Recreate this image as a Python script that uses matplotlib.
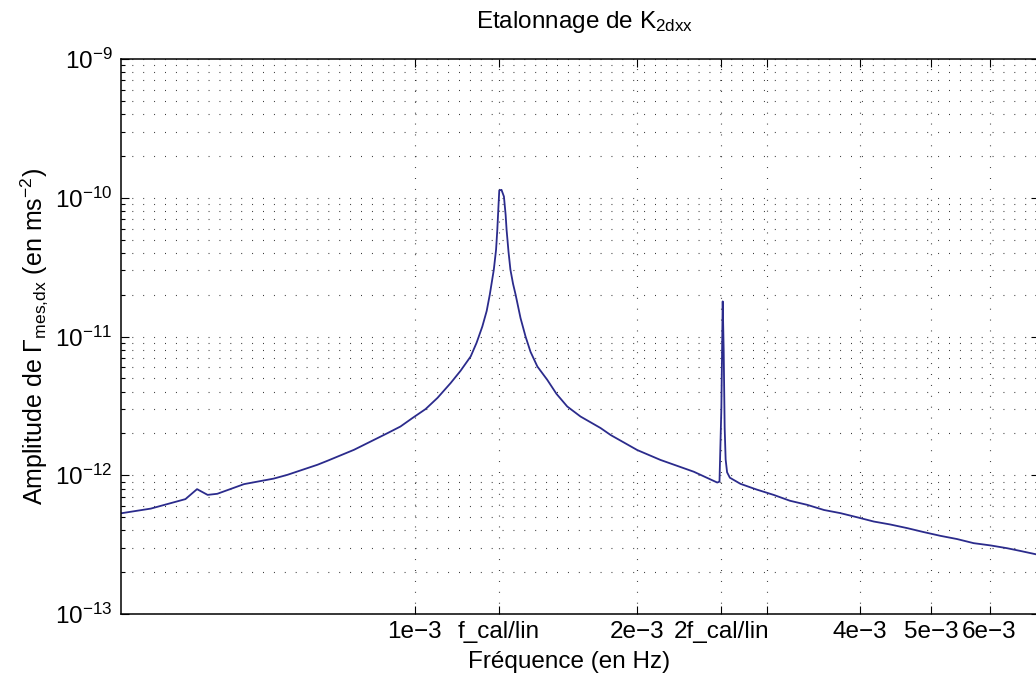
import matplotlib
matplotlib.use('Agg')
import matplotlib.pyplot as plt
from matplotlib.ticker import LogLocator, NullLocator, NullFormatter, FixedLocator, FixedFormatter

plt.rcParams['font.family'] = ['Liberation Sans', 'DejaVu Sans']
plt.rcParams['mathtext.fontset'] = 'custom'
plt.rcParams['mathtext.rm'] = 'Liberation Sans'
plt.rcParams['mathtext.it'] = 'Liberation Sans:italic'
plt.rcParams['mathtext.bf'] = 'Liberation Sans:bold'

# spectrum (Hz, m/s^2)
freq = [4.01e-4, 4.39e-4, 4.89e-4, 5.07e-4, 5.24e-4, 5.40e-4, 5.87e-4, 6.44e-4,
        6.72e-4, 7.38e-4, 7.61e-4, 8.27e-4, 9.18e-4, 9.56e-4, 9.93e-4, 1.034e-3,
        1.073e-3, 1.118e-3, 1.153e-3, 1.190e-3, 1.212e-3, 1.234e-3, 1.251e-3,
        1.263e-3, 1.279e-3, 1.288e-3, 1.293e-3, 1.298e-3, 1.301e-3, 1.310e-3,
        1.320e-3, 1.327e-3, 1.331e-3, 1.339e-3, 1.347e-3, 1.358e-3, 1.369e-3,
        1.390e-3, 1.412e-3, 1.434e-3, 1.465e-3, 1.511e-3, 1.555e-3, 1.608e-3,
        1.676e-3, 1.784e-3, 1.841e-3, 2.0e-3, 2.150e-3, 2.386e-3, 2.567e-3,
        2.585e-3, 2.600e-3, 2.611e-3, 2.619e-3, 2.627e-3, 2.635e-3, 2.647e-3,
        2.670e-3, 2.760e-3, 2.90e-3, 3.06e-3, 3.22e-3, 3.398e-3, 3.58e-3, 3.77e-3,
        3.97e-3, 4.181e-3, 4.40e-3, 4.64e-3, 4.88e-3, 5.146e-3, 5.42e-3, 5.71e-3,
        6.02e-3, 6.336e-3, 6.62e-3, 6.92e-3]
amp = [5.33e-13, 5.75e-13, 6.73e-13, 7.94e-13, 7.22e-13, 7.35e-13, 8.63e-13, 9.46e-13,
       1.007e-12, 1.19e-12, 1.27e-12, 1.525e-12, 2.01e-12, 2.245e-12, 2.59e-12, 3.0e-12,
       3.61e-12, 4.62e-12, 5.66e-12, 7.18e-12, 9.0e-12, 1.18e-11, 1.53e-11,
       2.0e-11, 3.03e-11, 4.22e-11, 5.87e-11, 8.9e-11, 1.13e-10, 1.14e-10,
       1.02e-10, 7.54e-11, 5.87e-11, 4.08e-11, 3.03e-11, 2.40e-11, 2.0e-11,
       1.36e-11, 1.0e-11, 7.76e-12, 6.08e-12, 4.87e-12, 3.86e-12, 3.13e-12,
       2.65e-12, 2.19e-12, 1.95e-12, 1.52e-12, 1.29e-12, 1.06e-12, 8.86e-13,
       9.0e-13, 3.0e-12, 1.79e-11, 8.0e-12, 2.2e-12, 1.3e-12, 1.05e-12,
       9.6e-13, 8.67e-13, 7.9e-13, 7.22e-13, 6.55e-13, 6.12e-13, 5.62e-13, 5.33e-13,
       4.98e-13, 4.64e-13, 4.42e-13, 4.16e-13, 3.90e-13, 3.66e-13, 3.47e-13, 3.24e-13,
       3.12e-13, 2.98e-13, 2.84e-13, 2.70e-13]

tick_pos = [1e-3, 1.3e-3, 2e-3, 2.6e-3, 3e-3, 4e-3, 5e-3, 6e-3]
tick_lab = ['1e\u22123', 'f_cal/lin', '2e\u22123', '2f_cal/lin', '', '4e\u22123', '5e\u22123', '6e\u22123']
y_decades = [1e-13, 1e-12, 1e-11, 1e-10, 1e-9]

fig = plt.figure(figsize=(10.36, 6.8), dpi=100)
ax = fig.add_axes([121 / 1036, 66 / 680, 918 / 1036, 555 / 680])

ax.plot(freq, amp, color='#2b2b8c', linewidth=1.3)

ax.set_xscale('log')
ax.set_yscale('log')
ax.set_xlim(4e-4, 7e-3)
ax.set_ylim(1e-13, 1e-9)

ax.xaxis.set_major_locator(FixedLocator(tick_pos))
ax.xaxis.set_major_formatter(FixedFormatter(tick_lab))
ax.xaxis.set_minor_locator(NullLocator())
ax.yaxis.set_major_locator(FixedLocator(y_decades))
ax.yaxis.set_minor_locator(LogLocator(base=10, subs=range(2, 10), numticks=20))
ax.yaxis.set_minor_formatter(NullFormatter())

dots = (0, (0.8, 9))
ax.grid(True, which='major', axis='both', color='0.15', linestyle=dots, linewidth=0.8)
ax.grid(True, which='minor', axis='y', color='0.15', linestyle=dots, linewidth=0.8)

ax.tick_params(which='both', direction='in', top=True, right=True, labelsize=17.5, width=0.8)
ax.tick_params(which='major', length=6)
ax.tick_params(which='minor', length=3)
ax.tick_params(axis='x', pad=5)
ax.tick_params(axis='y', pad=6)
for s in ax.spines.values():
    s.set_linewidth(1.1)

ax.set_title('Etalonnage de K$_{\\mathrm{2dxx}}$', fontsize=17.5, x=0.505, pad=22)
ax.set_xlabel('Fréquence (en Hz)', fontsize=17.5)
ax.xaxis.set_label_coords(0.488, -0.066)
ax.set_ylabel('Amplitude de $\\Gamma_{\\mathrm{mes{,}dx}}$ (en ms$^{-2}$)', fontsize=18, labelpad=4)

fig.savefig('out.png', dpi=100)
